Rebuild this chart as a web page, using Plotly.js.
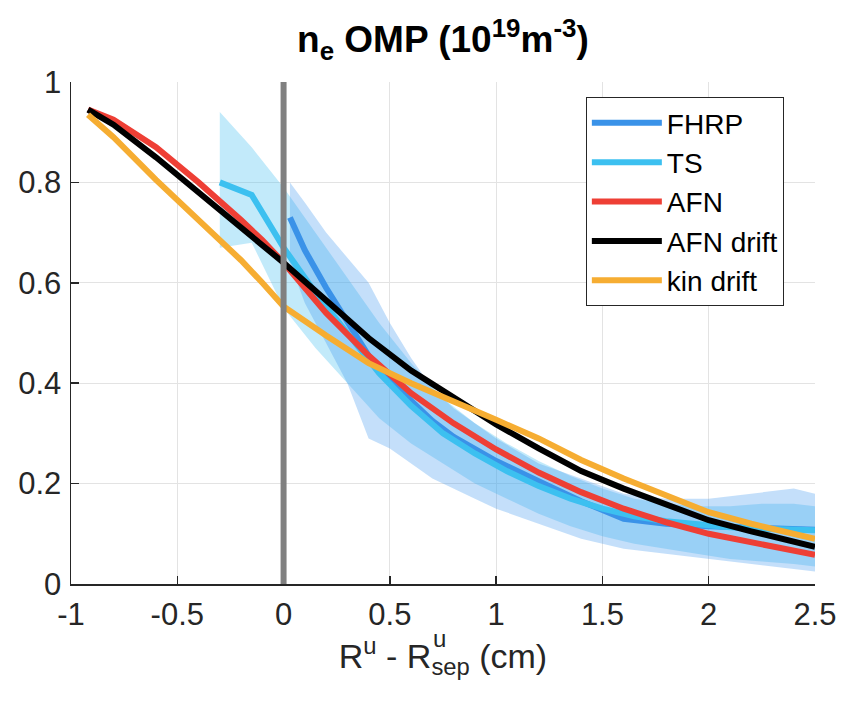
<!DOCTYPE html>
<html>
<head>
<meta charset="utf-8">
<script src="https://cdn.plot.ly/plotly-3.0.1.min.js"></script>
<style>html,body{margin:0;padding:0;background:#fff;}#chart{width:842px;height:711px;}</style>
</head>
<body>
<div id="chart"></div>
<script>
// ---- data ----
const seriesNames = ["FHRP", "TS", "AFN", "AFN drift", "kin drift"];

const fhrpX = [0.03, 0.1, 0.2, 0.3, 0.4, 0.5, 0.6, 0.7, 0.8, 1.0, 1.2, 1.4, 1.6, 1.8, 2.0, 2.2, 2.4, 2.5];
const fhrpY = [0.73, 0.665, 0.59, 0.525, 0.455, 0.405, 0.365, 0.325, 0.293, 0.245, 0.205, 0.165, 0.13, 0.12, 0.115, 0.112, 0.11, 0.108];
const fhrpBandX = [0.03, 0.1, 0.2, 0.3, 0.4, 0.5, 0.6, 0.7, 0.8, 0.9, 1.0, 1.2, 1.4, 1.6, 1.8, 2.0, 2.2, 2.4, 2.5];
const fhrpUpper = [0.80, 0.76, 0.70, 0.65, 0.60, 0.52, 0.45, 0.39, 0.35, 0.32, 0.29, 0.24, 0.21, 0.18, 0.17, 0.17, 0.18, 0.19, 0.18];
const fhrpLower = [0.64, 0.56, 0.48, 0.40, 0.29, 0.27, 0.24, 0.21, 0.19, 0.17, 0.15, 0.12, 0.09, 0.07, 0.06, 0.05, 0.04, 0.03, 0.025];

const tsX = [-0.3, -0.15, 0, 0.15, 0.3, 0.45, 0.6, 0.75, 0.9, 1.05, 1.2, 1.35, 1.5, 1.65, 1.8, 1.95, 2.1, 2.25, 2.4, 2.5];
const tsY = [0.80, 0.775, 0.67, 0.58, 0.50, 0.42, 0.355, 0.30, 0.26, 0.225, 0.195, 0.17, 0.15, 0.135, 0.125, 0.118, 0.113, 0.11, 0.108, 0.107];
const tsUpper = [0.94, 0.87, 0.79, 0.70, 0.61, 0.52, 0.44, 0.37, 0.32, 0.28, 0.245, 0.215, 0.19, 0.17, 0.16, 0.155, 0.155, 0.16, 0.16, 0.155];
const tsLower = [0.67, 0.68, 0.55, 0.47, 0.40, 0.33, 0.28, 0.24, 0.20, 0.17, 0.14, 0.115, 0.095, 0.08, 0.07, 0.06, 0.05, 0.045, 0.04, 0.035];

const simX = [-0.92, -0.8, -0.6, -0.4, -0.2, -0.1, 0, 0.2, 0.4, 0.6, 0.8, 1.0, 1.2, 1.4, 1.6, 1.8, 2.0, 2.2, 2.4, 2.5];
const afnY = [0.945, 0.925, 0.87, 0.80, 0.725, 0.685, 0.64, 0.54, 0.455, 0.38, 0.32, 0.268, 0.222, 0.183, 0.15, 0.123, 0.10, 0.083, 0.066, 0.058];
const afnDriftY = [0.945, 0.915, 0.85, 0.78, 0.71, 0.675, 0.64, 0.565, 0.49, 0.425, 0.37, 0.318, 0.27, 0.225, 0.19, 0.16, 0.127, 0.105, 0.085, 0.074];
const kinDriftY = [0.935, 0.89, 0.805, 0.725, 0.645, 0.60, 0.553, 0.495, 0.44, 0.40, 0.365, 0.327, 0.29, 0.247, 0.21, 0.175, 0.143, 0.12, 0.10, 0.09];

const xTickVals = [-1, -0.5, 0, 0.5, 1, 1.5, 2, 2.5];
const xTickText = ["-1", "-0.5", "0", "0.5", "1", "1.5", "2", "2.5"];
const yTickVals = [0, 0.2, 0.4, 0.6, 0.8, 1];
const yTickText = ["0", "0.2", "0.4", "0.6", "0.8", "1"];

// ---- styling ----
const colors = {FHRP: "#3a92e8", TS: "#3cc0f0", AFN: "#ee3f35", "AFN drift": "#000000", "kin drift": "#f6ad32"};
const FONT = "Liberation Sans, Arial, Helvetica, sans-serif";

function band(x, up, lo, fillcolor) {
  return {
    x: x.concat(x.slice().reverse()),
    y: up.concat(lo.slice().reverse()),
    type: "scatter", mode: "lines", fill: "toself", fillcolor: fillcolor,
    line: {width: 0, color: "rgba(0,0,0,0)"}, hoverinfo: "skip", showlegend: false
  };
}
function line(name, x, y) {
  return {x: x, y: y, type: "scatter", mode: "lines", name: name,
    line: {color: colors[name], width: 6}};
}

const traces = [
  band(tsX, tsUpper, tsLower, "rgba(70,190,240,0.33)"),
  band(fhrpBandX, fhrpUpper, fhrpLower, "rgba(60,150,240,0.30)"),
  line(seriesNames[0], fhrpX, fhrpY),
  line(seriesNames[1], tsX, tsY),
  line(seriesNames[2], simX, afnY),
  line(seriesNames[3], simX, afnDriftY),
  line(seriesNames[4], simX, kinDriftY)
];

const layout = {
  width: 842, height: 711,
  margin: {l: 71, r: 27, t: 82, b: 127},
  paper_bgcolor: "#ffffff", plot_bgcolor: "#ffffff",
  font: {family: FONT, color: "#262626", size: 31},
  title: {text: "<b>n<sub>e</sub> OMP (10<sup>19</sup>m<sup>-3</sup>)</b>",
    font: {family: FONT, size: 37, color: "#000"},
    x: 0.526, xanchor: "center", y: 0.945, yanchor: "middle", yref: "container"},
  xaxis: {range: [-1, 2.5], tickvals: xTickVals, ticktext: xTickText,
    showgrid: true, gridcolor: "#e3e3e3", gridwidth: 1, zeroline: false,
    showline: true, linecolor: "#262626", linewidth: 1.5, mirror: false,
    ticks: "inside", ticklen: 8, tickcolor: "#262626", tickwidth: 1.5,
    tickfont: {size: 31}, ticklabelstandoff: 2,
    title: {text: "R<sup>u</sup> - R<sub>sep</sub> (cm)", font: {size: 34}, standoff: 8}},
  yaxis: {range: [0, 1], tickvals: yTickVals, ticktext: yTickText,
    showgrid: true, gridcolor: "#e3e3e3", gridwidth: 1, zeroline: false,
    showline: true, linecolor: "#262626", linewidth: 1.5, mirror: false,
    ticks: "inside", ticklen: 8, tickcolor: "#262626", tickwidth: 1.5,
    tickfont: {size: 31}, ticklabelstandoff: 2},
  showlegend: true,
  legend: {x: 0.692, y: 0.97, xanchor: "left", yanchor: "top",
    bgcolor: "#ffffff", bordercolor: "#262626", borderwidth: 1,
    font: {family: FONT, size: 28, color: "#000"},
    itemwidth: 70, traceorder: "normal"},
  shapes: [{type: "line", xref: "x", yref: "paper", x0: 0, x1: 0, y0: 0, y1: 1,
    line: {color: "#808080", width: 6}, layer: "above"}],
  annotations: [{text: "u", xref: "paper", yref: "paper", x: 0.484, y: -0.108,
    xanchor: "left", yanchor: "middle", showarrow: false,
    font: {family: FONT, size: 24, color: "#262626"}}]
};

Plotly.newPlot("chart", traces, layout, {displayModeBar: false, staticPlot: true});
</script>
</body>
</html>
